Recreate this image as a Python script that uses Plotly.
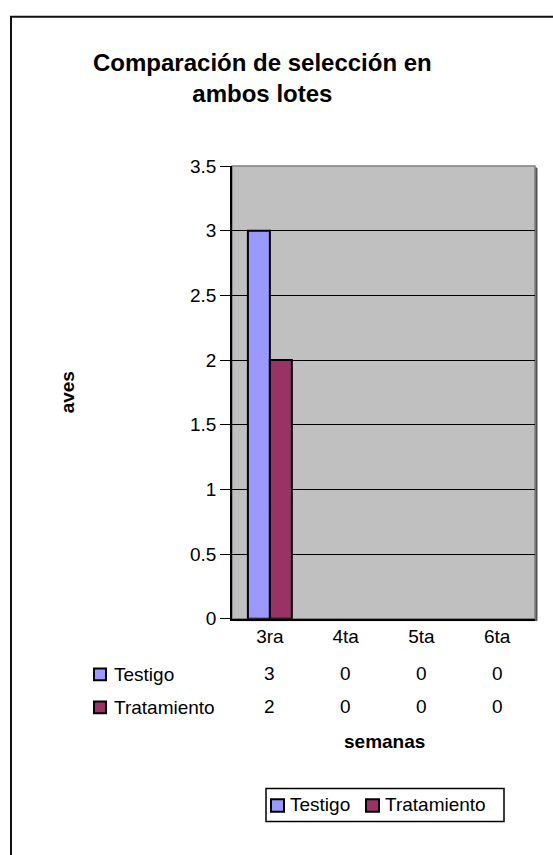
import plotly.graph_objects as go

W, H = 553, 855
categories = ["3ra", "4ta", "5ta", "6ta"]
testigo = [3, 0, 0, 0]
tratamiento = [2, 0, 0, 0]
series_names = ["Testigo", "Tratamiento"]
colors = ["#9999FF", "#993366"]
y_ticks = [0, 0.5, 1, 1.5, 2, 2.5, 3, 3.5]
y_tick_labels = ["0", "0.5", "1", "1.5", "2", "2.5", "3", "3.5"]

FONT = "Liberation Sans, Arial, sans-serif"
FS = 19

def px(x):
    return x / W

def py(y):
    return 1 - y / H

fig = go.Figure()
for name, vals, col in zip(series_names, [testigo, tratamiento], colors):
    fig.add_trace(go.Bar(
        x=categories, y=vals, name=name,
        marker=dict(color=col,
                    line=dict(color="black", width=[2 if v > 0 else 0 for v in vals])),
        showlegend=False,
    ))

x0, x1, yt, yb = 232, 535, 160, 624

shapes = []
# outer frame
shapes.append(dict(type="rect", xref="paper", yref="paper",
                   x0=px(11), x1=px(570), y0=py(7), y1=py(880),
                   line=dict(color="#111", width=2), layer="below"))
# plot area background with gray border + shadow
shapes.append(dict(type="rect", xref="paper", yref="paper",
                   x0=px(x0 + 2), x1=px(x1 + 2), y0=py(yb + 2), y1=py(yt + 2),
                   line=dict(color="#555", width=1), fillcolor="#555", layer="below"))
shapes.append(dict(type="rect", xref="paper", yref="paper",
                   x0=px(x0), x1=px(x1), y0=py(yb), y1=py(yt),
                   line=dict(color="#808080", width=1.5), fillcolor="#C0C0C0", layer="below"))

annotations = []
# title
annotations.append(dict(text="<b>Comparación de selección en<br>ambos lotes</b>",
                        xref="paper", yref="paper", x=px(262), y=py(70),
                        showarrow=False, font=dict(size=24, family=FONT, color="black"),
                        xanchor="center", yanchor="middle", align="center"))
# y title
annotations.append(dict(text="<b>aves</b>", xref="paper", yref="paper",
                        x=px(67), y=py(392), textangle=-90, showarrow=False,
                        font=dict(size=FS, family=FONT, color="black"),
                        xanchor="center", yanchor="middle"))
# data table
row_y = [681, 715]
for name, vals, col, ry in zip(series_names, [testigo, tratamiento], colors, row_y):
    shapes.append(dict(type="rect", xref="paper", yref="paper",
                       x0=px(94), x1=px(106), y0=py(ry + 6), y1=py(ry - 6),
                       line=dict(color="black", width=2), fillcolor=col))
    annotations.append(dict(text=name, xref="paper", yref="paper",
                            x=px(112), y=py(ry), showarrow=False,
                            font=dict(size=FS, family=FONT, color="black"),
                            xanchor="left", yanchor="middle"))
    for c, v in zip(categories, vals):
        annotations.append(dict(text=str(v), xref="x", yref="paper",
                                x=c, y=py(ry - 1), showarrow=False,
                                font=dict(size=FS, family=FONT, color="black"),
                                xanchor="center", yanchor="middle"))
# x title
annotations.append(dict(text="<b>semanas</b>", xref="paper", yref="paper",
                        x=px(384), y=py(750), showarrow=False,
                        font=dict(size=FS, family=FONT, color="black"),
                        xanchor="center", yanchor="middle"))

# legend (bottom box)
shapes.append(dict(type="rect", xref="paper", yref="paper",
                   x0=px(266), x1=px(504), y0=py(832), y1=py(798),
                   line=dict(color="black", width=1.5), fillcolor="white"))
leg_items = [(271, series_names[0], colors[0]), (366, series_names[1], colors[1])]
for lx, name, col in leg_items:
    shapes.append(dict(type="rect", xref="paper", yref="paper",
                       x0=px(lx), x1=px(lx + 13), y0=py(822), y1=py(809),
                       line=dict(color="black", width=2), fillcolor=col))
    annotations.append(dict(text=name, xref="paper", yref="paper",
                            x=px(lx + 17), y=py(815), showarrow=False,
                            font=dict(size=FS, family=FONT, color="black"),
                            xanchor="left", yanchor="middle"))

fig.update_layout(
    width=W, height=H,
    margin=dict(l=0, r=0, t=0, b=0),
    paper_bgcolor="white",
    plot_bgcolor="rgba(0,0,0,0)",
    barmode="group", bargap=0.42, bargroupgap=0,
    font=dict(family=FONT, size=FS, color="black"),
    shapes=shapes, annotations=annotations,
    xaxis=dict(domain=[px(x0), px(x1)], showline=True, linecolor="black", linewidth=1.5,
               ticks="", showgrid=False, tickfont=dict(size=FS), fixedrange=True),
    yaxis=dict(domain=[py(yb), py(yt)], range=[0, 3.5], tickvals=y_ticks,
               ticktext=y_tick_labels, showline=True, linecolor="black", linewidth=1.5,
               ticks="outside", ticklen=10, tickcolor="black", tickwidth=1,
               showgrid=True, gridcolor="black", gridwidth=1, zeroline=False,
               tickfont=dict(size=FS), fixedrange=True),
)

fig.write_html("out.html", config={"displayModeBar": False},
               post_script="document.body.style.margin='0';document.body.style.overflow='hidden';")
